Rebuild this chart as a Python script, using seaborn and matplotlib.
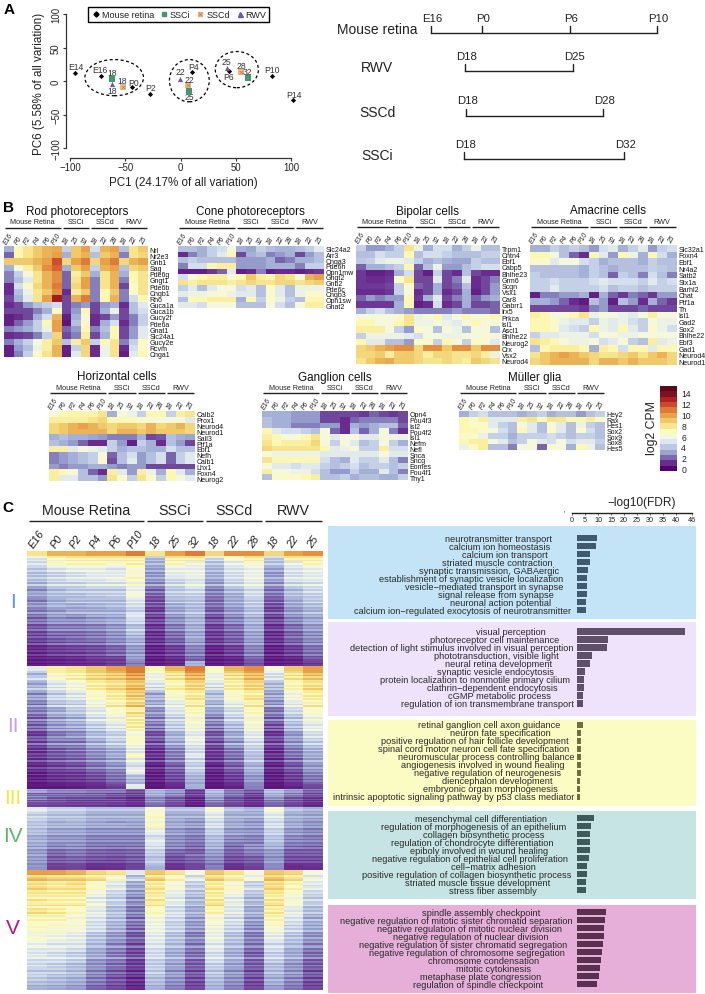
import matplotlib
matplotlib.use("Agg")
import matplotlib.pyplot as plt
from matplotlib.colors import LinearSegmentedColormap, Normalize
from matplotlib.cm import ScalarMappable
from matplotlib.lines import Line2D
from matplotlib.legend_handler import HandlerTuple
from matplotlib.patches import Ellipse, Rectangle
import numpy as np
import pandas as pd
import seaborn as sns

sns.set_theme(style="white")
plt.rcParams["font.family"] = ["Liberation Sans", "DejaVu Sans"]
plt.rcParams["axes.unicode_minus"] = True

W, H = 705, 995
fig = plt.figure(figsize=(W / 100, H / 100), dpi=100)


def px_ax(x, y, w, h, **kw):
    return fig.add_axes([x / W, 1 - (y + h) / H, w / W, h / H], **kw)


bg = px_ax(0, 0, W, H)
bg.set_xlim(0, W)
bg.set_ylim(H, 0)
bg.axis("off")

TXT = "#222222"
palette = ["#52006a", "#6a2d8f", "#7b6bae", "#9aa5cf", "#bcc8e3", "#dde7ef", "#f4f8e0", "#fdfab8",
           "#f7e68f", "#f0c86a", "#e8a34a", "#de7a38", "#cc4a2b", "#b02220", "#7e1020", "#5a0a18"]
VMIN, VMAX = -0.5, 15.3
cmap_fine = LinearSegmentedColormap.from_list("lcpm", palette, N=128)
cmap_steps = LinearSegmentedColormap.from_list("lcpm16", palette, N=16)

# ---------- Panel A data ----------
retina_stage = ["E14", "E16", "P0", "P2", "P4", "P6", "P10", "P14"]
retina_pc1 = [-95.8, -71.6, -43.9, -27.3, 10.7, 43.9, 82.8, 102]
retina_pc6 = [12, 7.5, -9, -20, 13, 14.5, 8, -28]
ssci_day = ["18", "25", "32"]
ssci_pc1 = [-62, 8, 60.8]
ssci_pc6 = [3, -15, 5]
sscd_day = ["18", "22", "28"]
sscd_pc1 = [-52, 7, 54.4]
sscd_pc6 = [-8.5, -6, 14]
rwv_day = ["18", "22", "25"]
rwv_pc1 = [-62, -0.5, 42]
rwv_pc6 = [-4.5, 3, 20]
retina_off = [(1, 6), (-2, 6), (2, 5), (0, 7), (1, 6), (0, -5), (0, 6), (1, 5)]
ssci_off = [(0, 6), (0, -5), (0, 6)]
sscd_off = [(-1, 6), (1, 6), (1, 6)]
rwv_off = [(0, -6), (0, 7), (-1, 6)]
GREEN, ORANGE, VIOLET = "#3f9a6e", "#eeb98a", "#6a5aa8"

ax = px_ax(70, 15, 221, 134)
ax.set_xlim(-100, 100)
ax.set_ylim(-100, 100)
ax.patch.set_alpha(0)
sns.scatterplot(x=retina_pc1, y=retina_pc6, marker="D", color="black", s=7, linewidth=0, ax=ax, clip_on=False)
sns.scatterplot(x=ssci_pc1, y=ssci_pc6, marker="s", color=GREEN, s=14, linewidth=0, ax=ax)
sns.scatterplot(x=sscd_pc1, y=sscd_pc6, marker="s", color=ORANGE, s=14, linewidth=0, ax=ax)
sns.scatterplot(x=sscd_pc1, y=sscd_pc6, marker="x", color="#c9783a", s=7, linewidth=0.5, ax=ax)
sns.scatterplot(x=rwv_pc1, y=rwv_pc6, marker="^", color=VIOLET, s=14, linewidth=0, ax=ax)
for labs, xs, ys, offs in [(retina_stage, retina_pc1, retina_pc6, retina_off), (ssci_day, ssci_pc1, ssci_pc6, ssci_off),
                           (sscd_day, sscd_pc1, sscd_pc6, sscd_off), (rwv_day, rwv_pc1, rwv_pc6, rwv_off)]:
    for lab, x, y, off in zip(labs, xs, ys, offs):
        ax.annotate(lab, (x, y), xytext=off, textcoords="offset pixels", ha="center", va="center", fontsize=6.2,
                    color="#333333", annotation_clip=False)
for cx, cy, ew, eh in [(-60, 5, 53, 54), (8, 0.5, 36, 63), (51, 17, 39, 54)]:
    ax.add_patch(Ellipse((cx, cy), ew, eh, fill=False, ec="black", ls=(0, (2.4, 2)), lw=0.9))
sns.despine(ax=ax, offset={"left": 3, "bottom": 7})
for s in ("left", "bottom"):
    ax.spines[s].set_color("#333333")
    ax.spines[s].set_linewidth(0.9)
ax.set_xticks([-100, -50, 0, 50, 100])
ax.set_yticks([-100, -50, 0, 50, 100])
ax.tick_params(axis="both", length=2.2, width=0.8, labelsize=6.9, pad=1.2, color="#333333", left=True, bottom=True,
               labelcolor=TXT)
for t in ax.get_yticklabels():
    t.set_rotation(90)
    t.set_va("center")
bg.text(183, 183, "PC1 (24.17% of all variation)", ha="center", va="center", fontsize=8.4, color=TXT)
bg.text(39, 84, "PC6 (5.58% of all variation)", ha="center", va="center", fontsize=8.4, rotation=90, color=TXT)
hs = [Line2D([], [], marker="D", color="black", ls="", ms=2.6),
      Line2D([], [], marker="s", color=GREEN, ls="", ms=3.4),
      (Line2D([], [], marker="s", color=ORANGE, ls="", ms=3.4),
       Line2D([], [], marker="x", color="#c9783a", ls="", ms=2.6, mew=0.5)),
      Line2D([], [], marker="^", color=VIOLET, ls="", ms=3.6)]
leg = ax.legend(hs, ["Mouse retina", "SSCi", "SSCd", "RWV"], ncol=4, loc="center",
                bbox_to_anchor=(178.5 / W, 1 - 15.5 / H), bbox_transform=fig.transFigure, fontsize=6.5,
                frameon=True, fancybox=False, edgecolor="black", framealpha=1, handletextpad=0.05,
                columnspacing=0.5, handlelength=1.2, borderpad=0.3, handler_map={tuple: HandlerTuple(ndivide=1, pad=0)})
leg.get_frame().set_linewidth(1)
for t in leg.get_texts():
    t.set_color(TXT)

# ---------- Panel A timelines ----------
timeline_names = ["Mouse retina", "RWV", "SSCd", "SSCi"]
timeline_stages = [["E16", "P0", "P6", "P10"], ["D18", "D25"], ["D18", "D28"], ["D18", "D32"]]
timeline_x = [[431, 482, 570, 657], [465, 573], [466, 603], [464, 624]]
timeline_y = [34, 72, 117, 160]
for name, stages, xs, y in zip(timeline_names, timeline_stages, timeline_x, timeline_y):
    bg.plot([xs[0], xs[-1]], [y, y], color="#222222", lw=1, solid_capstyle="projecting")
    for st, x in zip(stages, xs):
        bg.plot([x, x], [y, y - 7], color="#222222", lw=1)
        bg.text(x + 1.5, y - 15.5, st, ha="center", va="center", fontsize=8.2, color=TXT)
    bg.text(377, y - 4, name, ha="center", va="center", fontsize=10, color=TXT)

# ---------- Panel B data ----------
sample_cols = ["E16", "P0", "P2", "P4", "P6", "P10", "18", "25", "32", "18", "22", "28", "18", "22", "25"]
group_names = ["Mouse Retina", "SSCi", "SSCd", "RWV"]
group_spans = [(0, 6), (6, 9), (9, 12), (12, 15)]

rod_genes = ["Nrl", "Nr2e3", "Gnb1", "Sag", "Pde6g", "Gngt1", "Pde6b", "Cngb1", "Rho", "Guca1a", "Guca1b", "Gucy2f",
             "Pde6a", "Gnat1", "Slc24a1", "Gucy2e", "Rcvm", "Cnga1"]
rod_values = [
    [3, 7, 8, 9, 9.5, 9.8, 4, 9, 10, 4.5, 9.5, 10, 3.5, 8, 9],
    [1.5, 7, 8, 9, 9.5, 10, 3, 9, 9.5, 3.5, 9, 9.5, 2, 8, 8.5],
    [9, 9, 9, 9.5, 10, 12, 8.5, 10, 11, 8.5, 10, 11, 8.5, 9.5, 10],
    [3, 6, 7.5, 9, 10.5, 11.5, 3, 9, 10, 4, 9.5, 10, 3.5, 8.5, 9],
    [2, 4, 6, 8, 9.5, 10.5, 1.5, 7.5, 9, 3, 8, 9.5, 3, 7, 8],
    [2, 3.5, 5, 8, 9.5, 10.5, 1.5, 8, 10, 2, 8, 9.5, 2, 7, 8],
    [0.5, 4.5, 6.5, 8.5, 9.5, 11, 1.5, 8.5, 10, 2, 8, 9.5, 1, 6.5, 8],
    [0.5, 3.5, 5.5, 8, 9, 10.5, 0.5, 7.5, 9, 2, 7, 9, 2, 6.5, 8],
    [1, 3, 5, 8, 10, 13.5, 1, 9.5, 11, 2, 7, 9.5, 2, 4.5, 7],
    [0.5, 1, 2.5, 3.5, 4, 4.5, 1, 2, 2.5, 1, 2.5, 3, 0.5, 3.5, 5],
    [1, 1, 1, 2, 3, 6.5, 1, 2.5, 7, 1, 3, 5.5, 1, 3.5, 4.5],
    [0.3, 0.5, 1, 3, 4.5, 9.5, 0.3, 3, 6, 0.5, 1, 2.5, 1, 2, 4],
    [0.3, 1.5, 2.5, 4, 7, 10, 0, 3.5, 6.5, 0.5, 3, 4.5, 0.5, 2, 4],
    [2, 2.5, 3, 4, 5.5, 10, 1.5, 2.5, 7, 2, 3.5, 7, 1, 2.5, 5],
    [0.5, 0.8, 1, 2, 4, 8.5, 1, 2, 7.5, 1, 3, 7, 1, 2.5, 5],
    [2, 3, 4, 6, 7.5, 9, 3.5, 7.5, 9, 4, 7, 8, 2, 4, 6.5],
    [0.3, 2.5, 3.5, 5.5, 7.5, 9.5, 0.3, 4, 8.5, 0.5, 5.5, 8, 0.5, 4.5, 6.5],
    [0.3, 2, 4, 6.5, 8, 9.5, 0.3, 5, 8.5, 0.5, 5.5, 8, 0.3, 5, 7],
]
cone_genes = ["Slc24a2", "Arr3", "Cnga3", "Pde6h", "Opn1mw", "Gngt2", "Gnb2", "Pde6c", "Cngb3", "Opn1sw", "Gnat2"]
cone_values = [
    [3.5, 3.5, 3, 4, 4.5, 6, 3, 2.8, 4, 3.5, 3.2, 3.2, 3.5, 4, 5],
    [0.5, 2, 3, 4, 5, 7, 1, 3, 3.5, 2, 2.5, 3, 1, 2.5, 3.5],
    [3.5, 4, 3.5, 3.5, 3.5, 3.5, 2.5, 2.5, 2.5, 3, 1.5, 2, 3, 3, 3.5],
    [2, 4.5, 4.5, 7, 7.5, 7.5, 2.5, 2.5, 2.5, 3, 3, 3, 2, 4, 4],
    [0.3, 0.3, 0.3, 0.8, 1.5, 5, 0.3, 0.5, 2, 0.3, 0.5, 0.5, 0.3, 0.5, 0.8],
    [4.5, 6, 7, 7.5, 7.5, 6, 7, 9, 7.5, 7, 8.5, 8, 6, 9.5, 10],
    [8, 7.5, 8, 8, 8, 7.5, 8, 8.5, 8, 8, 8.5, 8.5, 8, 8.5, 8.8],
    [4, 5, 3.5, 5, 6, 6, 4.5, 5, 3.5, 6.5, 5, 3.5, 5.5, 5.5, 5.5],
    [5, 5.5, 5.5, 6, 6, 5.5, 5, 5, 3.5, 6.5, 5, 3.5, 5.5, 6.5, 6.5],
    [3.5, 7, 7, 7.5, 7.5, 7.5, 3, 7, 4, 6.5, 5.5, 4, 3.5, 7, 7],
    [5, 5, 4.5, 6, 6, 6, 3.5, 3.5, 3.5, 6, 4.5, 3.5, 6, 7.5, 7.5],
]
bipolar_genes = ["Trpm1", "Cntn4", "Ebf1", "Cabp5", "Bhlhe23", "Grm6", "Scgn", "Vsx1", "Car8", "Gabrr1", "Irx5", "Prkca",
                 "Isl1", "Ascl1", "Bhlhe22", "Neurog2", "Crx", "Vsx2", "Neurod4"]
bipolar_values = [
    [4, 2.5, 2.5, 3, 4, 8, 5.5, 3, 4.5, 4.5, 3, 4, 5.5, 3.5, 3.5],
    [3.5, 3.5, 4.5, 4, 4, 7, 3.5, 4.5, 4.5, 4, 3.5, 3.5, 3.5, 4, 4],
    [3.8, 4, 5, 5.5, 5.5, 5, 4, 3, 3.5, 3, 2.8, 2.8, 4, 3.5, 3.5],
    [1.5, 3, 3, 3.5, 4, 7, 1.5, 3.5, 5.5, 2.5, 2.5, 3.5, 4, 4.5, 4.5],
    [0.8, 0.3, 0.3, 0.5, 3, 4.5, 1, 0.3, 4, 1, 0.5, 3.5, 1, 0.5, 0.5],
    [0.8, 0.5, 0.5, 0.8, 6.5, 8, 1, 1, 5, 1, 2, 5, 0.5, 1, 2],
    [0.8, 0.8, 0.8, 1, 4, 6.5, 1.5, 1, 3, 1, 1.5, 3.5, 0.5, 1, 2.5],
    [0.5, 0.5, 0.5, 0.8, 4, 6, 0.5, 1, 3, 0.5, 1, 3, 0.3, 1, 2.5],
    [1.5, 2.5, 2, 2.5, 2.5, 7, 0.8, 3, 5, 1, 2, 3, 1.5, 2.5, 3],
    [0.8, 0.8, 0.8, 0.8, 3, 7, 0.3, 0.5, 4.5, 0.5, 1, 3, 1, 1, 1.5],
    [3, 4, 4.5, 3.5, 3, 2.5, 2, 2, 2, 2, 2.5, 2, 2, 2, 1.5],
    [6, 6, 6, 6, 6.5, 8, 5.5, 6, 7, 5, 6, 7, 6, 6.5, 7],
    [7, 7, 6, 6, 7, 8, 5.5, 5.5, 6, 5.5, 5, 6, 7, 6, 6],
    [7.5, 7.5, 7.5, 6, 4, 2.5, 6.5, 6, 3.5, 6, 5.5, 3.5, 6, 6, 3.5],
    [4, 5.5, 5.5, 5.5, 5.5, 5, 4.5, 6, 6, 5.5, 5.5, 6, 6, 6.5, 6],
    [7, 5, 5, 3.5, 3.5, 2.5, 6.5, 6.5, 4, 7, 6, 4, 6.5, 6, 5],
    [8.5, 9, 9.5, 10, 10.5, 10.5, 8.5, 10.5, 10.5, 9, 10.5, 10.5, 9, 10.5, 10.5],
    [8.5, 8.5, 8.8, 7.5, 8.8, 9, 8.5, 7.5, 8.5, 8.5, 8, 8, 8.5, 7.5, 5.5],
    [8, 8.8, 9.5, 9.8, 9, 9, 8.5, 8, 8, 8.5, 8, 7.5, 9, 8.5, 8],
]
amacrine_genes = ["Slc32a1", "Foxn4", "Ebf1", "Nr4a2", "Satb2", "Stx1a", "Barhl2", "Chat", "Ptf1a", "Th", "Isl1", "Gad2",
                  "Sox2", "Bhlhe22", "Ebf3", "Gad1", "Neurod4", "Neurod1"]
amacrine_values = [
    [3, 3, 4, 3.5, 4, 3.5, 2.5, 4.5, 5, 3, 4, 5, 2.5, 4, 4.5],
    [7, 7, 6, 3.5, 1.5, 0.5, 7, 5, 2.5, 7, 5.5, 3, 7, 4.5, 3],
    [6.5, 6.5, 5, 6, 6, 4.5, 4, 3, 3.5, 3.5, 3.5, 3, 4, 3.5, 3.5],
    [3.5, 3.5, 3.5, 3.5, 3.5, 3, 4, 3.5, 3, 3.5, 3.5, 3.5, 4, 3.8, 3.5],
    [4, 3.5, 3.5, 3.5, 3.5, 3, 4, 3.5, 1.5, 4, 3.5, 2, 4.5, 3.5, 2],
    [4, 4, 4.5, 4, 4, 4, 4.5, 5, 4.5, 4.5, 4.5, 4, 5, 4, 4.5],
    [4, 4, 5, 4, 4, 4, 4, 4.5, 3.5, 4, 4, 3.5, 4, 4, 4],
    [0.3, 2, 2, 2.5, 2.5, 3, 0.3, 3, 1.5, 0.8, 2, 1.5, 0.8, 2.5, 2.5],
    [3, 3, 2.5, 1.5, 0.5, 0.2, 3.5, 2.5, 0.3, 3.5, 2.5, 0.5, 3, 1.5, 0.8],
    [1, 1, 1, 1, 1, 0.8, 2, 2.5, 1, 1, 1, 1.5, 1, 1, 1],
    [7.5, 7, 6, 6, 7, 8, 5.5, 6, 6, 5.5, 5, 6, 7.5, 6, 6],
    [7, 7, 6.5, 5.5, 5, 5, 4, 5.5, 5, 5.5, 4.5, 4, 6, 5.5, 5.5],
    [7, 7, 6.5, 5, 4.5, 4, 7, 5.5, 5, 7, 5, 4, 6.5, 5.5, 4.5],
    [4, 5, 5, 5.5, 5.5, 5.5, 4.5, 6, 6, 5.5, 5.5, 6, 6, 6, 6],
    [8, 7.5, 7, 6, 5.5, 5.5, 6, 4.5, 5, 6, 4, 3.5, 7.5, 5, 5.5],
    [3.5, 7, 7.5, 7.5, 7.5, 7, 3, 7.5, 7, 4.5, 7, 7, 5, 7, 7],
    [8, 9, 9.5, 10, 9.5, 9, 8.5, 8, 8, 8.5, 9, 8, 9, 9.5, 8.5],
    [8.5, 9, 9.5, 9.5, 9.5, 9.5, 8.5, 9.5, 9.5, 9, 9.5, 9, 9, 9, 8.5],
]
horizontal_genes = ["Calb2", "Prox1", "Neurod4", "Neurod1", "Sall3", "Ptf1a", "Ebf1", "Nefh", "Calb1", "Lhx1", "Foxn4",
                    "Neurog2"]
horizontal_values = [
    [6, 7, 7.2, 7.2, 7.2, 8, 3, 6, 5.5, 4, 7, 7, 4, 7.5, 8],
    [7.5, 7.5, 7.5, 7.5, 8, 8.5, 7, 7, 6.8, 6.5, 6, 6, 6, 6, 5],
    [8.5, 9, 9.5, 10, 9.5, 9, 8.5, 9, 9, 8.5, 9.5, 8.5, 9, 9.5, 8.5],
    [8.5, 9, 9.5, 9.5, 9.5, 9.5, 8.5, 9.5, 9.5, 9, 9.5, 9, 9, 9, 8.5],
    [3, 3.5, 3, 3, 2.8, 2.5, 2, 2, 2, 3, 1, 1.3, 3.5, 3, 2.8],
    [3.5, 3, 2.5, 1.5, 0.5, 0.5, 4, 2.5, 0.3, 4, 3, 0.5, 3.5, 2.5, 1],
    [7.5, 7.5, 5, 6, 5.5, 5, 4, 3, 3.5, 3.5, 3, 3, 4.5, 3.5, 3.5],
    [2, 2.5, 3, 3.5, 4, 6, 1.5, 3.5, 4.5, 2.5, 3.5, 4.5, 1.5, 4, 5],
    [2, 2.5, 3, 3.5, 4, 6.5, 1.2, 3.5, 5, 2.5, 3.5, 4.5, 1.5, 4, 5],
    [2.5, 2, 2.5, 2.5, 3, 3, 2.5, 2, 2.5, 2.5, 1, 1, 1, 1, 1],
    [7.5, 7, 6, 3.5, 1.5, 0.5, 7.5, 5, 2.5, 7.5, 5.5, 3, 7, 5, 3],
    [7.5, 5, 5, 3.5, 3.5, 2.5, 8, 6.5, 4, 8, 6.5, 4, 7, 6, 5],
]
ganglion_genes = ["Opn4", "Pou4f3", "Isl2", "Pou4f2", "Isl1", "Nefm", "Nefl", "Snca", "Sncg", "Eomes", "Pou4f1", "Thy1"]
ganglion_values = [
    [3, 3, 3, 2.5, 2.5, 2.5, 1, 1, 1, 1, 0.8, 1.5, 1, 0.8, 1],
    [3.5, 3, 3, 2.5, 2.5, 2.5, 1, 1, 0.5, 1.5, 2, 2, 2, 2, 1],
    [3.5, 3, 3, 2, 2, 2, 2.5, 2.5, 0.5, 3, 2.5, 3, 3.5, 3.5, 1.5],
    [7, 5, 4.5, 4.5, 4, 3.5, 6, 1.5, 0.5, 3.5, 1.5, 3, 6, 2, 0.5],
    [7.5, 7, 6, 6, 7, 8, 6, 5, 6, 6, 5, 5, 6, 5.5, 5.5],
    [8, 7, 7.5, 7.5, 7.5, 8.5, 6, 4, 6, 5, 3.5, 4, 6, 4, 3],
    [8.5, 8, 8, 8, 8, 8, 7, 5, 5.5, 6, 4, 4, 7.5, 4.5, 4.5],
    [6, 5.5, 5.5, 5.5, 5.5, 5.5, 5, 5, 5, 5, 5, 5, 6, 5, 5],
    [8, 7, 7, 7, 7, 7, 4.5, 3.5, 3, 5, 4, 4, 5, 3.5, 2],
    [6, 5, 5, 4.5, 5, 5, 4, 3.5, 4, 4.5, 3.5, 4, 4, 3.5, 4],
    [7.5, 6, 6, 5.5, 5.5, 4.5, 3.5, 2.5, 2.5, 4, 3, 3, 5, 3.5, 2],
    [3.5, 6.5, 6.5, 6.5, 7, 7.5, 3.5, 3.5, 4, 3, 3.5, 3.5, 3, 3, 4],
]
muller_genes = ["Hey2", "Rax", "Hes1", "Sox2", "Sox9", "Sox8", "Hes5"]
muller_values = [
    [3, 4, 4.5, 3.5, 3.5, 3.5, 3, 3.5, 4, 3, 3.5, 3.5, 2.5, 3.5, 4],
    [7, 6.5, 7.5, 5, 5, 5, 7.5, 8, 6.8, 8, 7.8, 7, 7, 7.5, 6.5],
    [7, 6.5, 6.5, 5, 4, 3.5, 6, 5, 3.5, 6, 5, 3.5, 5.5, 4, 3.5],
    [7, 7, 6.5, 6, 4.5, 3.5, 7, 5, 3.5, 6.5, 5, 3.5, 6.5, 4.5, 3.5],
    [6.5, 6.5, 5.5, 4, 4, 3, 4, 4, 4, 4.5, 4, 3.5, 4, 4, 3.5],
    [7, 7.5, 7.5, 6, 5, 3.5, 4, 6, 5, 4.5, 6, 4.5, 5, 5, 4],
    [5.5, 6.5, 7.5, 3.5, 3.5, 2, 6, 6, 1.5, 6.5, 6, 3, 7, 5.5, 3.5],
]

panels_b = [
    ("Rod photoreceptors", rod_genes, rod_values, 4, 247, 144, 111, 77),
    ("Cone photoreceptors", cone_genes, cone_values, 178, 247, 146, 62, 250),
    ("Bipolar cells", bipolar_genes, bipolar_values, 356, 246, 144, 119, 427),
    ("Amacrine cells", amacrine_genes, amacrine_values, 530, 246, 147, 120, 608),
    ("Horizontal cells", horizontal_genes, horizontal_values, 49, 412, 146, 70, 117),
    ("Ganglion cells", ganglion_genes, ganglion_values, 262, 412, 146, 69, 335),
    ("Müller glia", muller_genes, muller_values, 459, 412, 146, 39, 535),
]


def hmap(ax, vals, genes=False, cols=False):
    df = pd.DataFrame(vals)
    sns.heatmap(df, ax=ax, cmap=cmap_fine, vmin=VMIN, vmax=VMAX, cbar=False, xticklabels=cols, yticklabels=genes,
                linewidths=0, rasterized=True)


def headers(x0, w, y, names_fs, line_lw, text_dy, pad=1.0):
    cw = w / 15
    for nm, (a, b) in zip(group_names, group_spans):
        bg.plot([x0 + a * cw + pad, x0 + b * cw - pad], [y, y], color="#222222", lw=line_lw, solid_capstyle="butt")
        bg.text(x0 + (a + b) / 2 * cw, y - text_dy, nm, ha="center", va="center", fontsize=names_fs, color=TXT)


for title, genes, vals, x0, y0, w, h, tx in panels_b:
    axh = px_ax(x0, y0, w, h)
    hmap(axh, vals, genes, sample_cols)
    axh.yaxis.tick_right()
    axh.xaxis.tick_top()
    axh.tick_params(axis="both", length=0, pad=1.2)
    axh.tick_params(axis="y", labelsize=5.0, labelrotation=0, labelcolor="#111111")
    axh.tick_params(axis="x", labelsize=4.9, labelrotation=60, labelcolor=TXT, pad=0.8)
    for t in axh.get_xticklabels():
        t.set_style("italic")
    headers(x0, w, y0 - 18, 5.2, 1.0, 6)
    bg.text(tx, y0 - 34.5, title, ha="center", va="center", fontsize=8.4, color="#111111")

# colour key
key_ticks = [0, 2, 4, 6, 8, 10, 12, 14]
cax = px_ax(660, 387, 17, 85)
cb = fig.colorbar(ScalarMappable(Normalize(VMIN, VMAX), cmap_steps), cax=cax)
cb.set_ticks(key_ticks)
cb.outline.set_visible(False)
cb.ax.tick_params(length=0, labelsize=6.2, pad=3, labelcolor=TXT)
bg.text(652, 428, "log2 CPM", rotation=90, ha="center", va="center", fontsize=8.8, color=TXT)

# ---------- Panel C data ----------
cluster_names = ["I", "II", "III", "IV", "V"]
cluster_colors = ["#5b9bd5", "#c9a0f0", "#f2e83c", "#5fb56a", "#c4107a"]
cluster_label_y = [602, 727, 798, 836, 929]
cluster_edges = [552, 667, 790, 808, 871, 991]

cluster1_values = [
    [8, 9.5, 9.5, 10, 10, 11, 8, 10, 11, 8.5, 10.5, 10.5, 8.5, 10, 10.5],
    [5, 7, 7.5, 7.5, 7.5, 7.5, 3.5, 7.5, 7.5, 4.5, 6.5, 7.5, 4, 7.5, 7.5],
    [4.5, 6, 6.5, 6.5, 6, 7, 3, 6.5, 5.5, 3.5, 5, 6, 3.5, 5, 6.5],
    [4, 5, 5.5, 5.5, 5, 6.5, 3, 5.5, 5.5, 3.5, 5, 5.5, 3, 5, 5.5],
    [3.5, 4, 4.5, 5, 5, 6, 2.5, 5, 5.5, 3, 4.5, 5.5, 2.5, 4.5, 5],
    [3.8, 4.5, 5, 5, 5.5, 6.8, 2.8, 4.5, 5, 3, 4.5, 5.5, 3, 5, 5.2],
    [3, 4, 4, 4.5, 4.5, 5.5, 2.2, 4, 5, 2.5, 4, 5, 2.3, 4, 4.5],
    [2.5, 3.5, 4, 4, 4, 5.5, 1.8, 4, 4.5, 2.2, 3.5, 4.5, 2, 3.5, 4.5],
    [2.8, 3.5, 3.5, 3.8, 4, 6, 1.5, 3.8, 4, 2, 3, 4.5, 1.8, 3.5, 4],
    [2.2, 3, 3.5, 3.5, 3.5, 5, 1.3, 3.5, 3.8, 1.8, 3, 4, 1.5, 3, 4],
    [2.5, 3.2, 3, 3.2, 3.5, 4.5, 1.2, 3, 3.5, 1.8, 2.8, 3.8, 1.2, 2.8, 3.5],
    [2, 2.5, 3, 3, 3, 4, 1, 2.8, 3.5, 1.5, 2.5, 3.5, 1.2, 2.5, 3.2],
    [1.8, 2.6, 2.4, 2.8, 3, 5, 1, 2.5, 3.2, 1.2, 2.2, 3.3, 1, 2.4, 3],
    [1.6, 2.2, 2.2, 2.5, 2.8, 4, 0.9, 2.2, 3, 1.2, 2, 3, 1, 2, 2.8],
    [1.4, 2, 2, 2.2, 2.5, 3.5, 0.8, 2, 3, 1, 1.8, 3, 0.8, 1.8, 2.6],
    [1.2, 1.8, 1.8, 2, 2.5, 3.8, 0.7, 1.8, 2.8, 0.9, 1.6, 2.8, 0.7, 1.6, 2.4],
    [1, 1.4, 1.6, 1.8, 2.2, 3, 0.6, 1.5, 2.8, 0.8, 1.4, 2.6, 0.6, 1.5, 2.2],
    [0.8, 1.2, 1.4, 1.5, 2, 2.8, 0.5, 1.3, 2.4, 0.7, 1.2, 2.4, 0.5, 1.3, 2],
    [0.6, 1, 1.1, 1.2, 1.6, 2.6, 0.4, 1, 2.2, 0.5, 1, 2.2, 0.4, 1, 1.8],
    [0.4, 0.7, 0.8, 1, 1.4, 2.4, 0.3, 0.8, 1.8, 0.3, 0.8, 1.9, 0.3, 0.8, 1.6],
    [0.3, 0.5, 0.6, 0.8, 1, 2.6, 0.2, 0.6, 1.6, 0.2, 0.5, 1.6, 0.2, 0.5, 1.3],
    [0, 0.2, 0.3, 0.4, 0.6, 1.8, 0, 0.3, 3, 0, 0.3, 1, 0, 0.2, 0.6],
]
cluster2_values = [
    [5, 7.5, 8, 9, 10, 11, 7, 9.5, 11, 6.5, 9.5, 10.5, 6, 9, 10],
    [3.5, 7, 7.5, 8.5, 9, 10.5, 6, 8, 10, 6, 8.5, 9.5, 5, 8, 9.5],
    [4, 6, 7, 8, 8.5, 9.5, 5.5, 7.5, 9, 5.5, 7.5, 9, 4.5, 7.5, 8.5],
    [3, 5, 6, 7.5, 8, 9, 5, 7, 8.5, 5, 7.5, 8.5, 3.5, 7, 8],
    [3.2, 4.5, 5.5, 7, 8, 9, 4, 7, 8, 4, 7, 8, 3, 6.5, 8],
    [2.5, 4, 5, 6.5, 7.5, 9, 3, 6.5, 7.5, 3.5, 6.5, 7.5, 3, 6, 7.5],
    [2.5, 4, 4.5, 6, 7, 8, 3, 5.5, 7.5, 3.5, 6, 7.5, 2.5, 5.5, 7],
    [2, 3.5, 4, 5.5, 7, 8.5, 3, 5, 7, 3, 5, 7, 2.5, 5, 7],
    [2.2, 3, 4, 5, 6.5, 7.5, 2.5, 5, 7, 3, 4.5, 7, 2, 4.5, 6.5],
    [1.8, 3, 3.5, 5, 6, 8, 2.5, 4.5, 6.5, 2.5, 4.5, 6.5, 2, 4, 6],
    [1.5, 2.5, 3, 4.5, 5.5, 7, 2, 4, 6, 2, 4, 6, 1.5, 3.5, 5.5],
    [1.6, 2.5, 3, 4, 5, 7.5, 2, 4, 6, 2, 3.5, 6, 1.3, 3.5, 5],
    [1.3, 2.3, 2.5, 3.5, 4.5, 6.5, 1.5, 3.5, 5.5, 1.5, 3, 5.5, 1, 3, 5],
    [1, 2, 2.5, 3.5, 4, 6, 1.3, 3, 5, 1.5, 3, 5, 1, 2.5, 4.5],
    [1.2, 2, 2, 3, 4, 6.5, 1.2, 3, 5.5, 1.2, 2.5, 4.5, 1, 2.5, 4],
    [1, 1.8, 2, 2.8, 3.5, 5.5, 1, 2.5, 4.5, 1, 2.5, 4, 0.8, 2.2, 3.5],
    [0.8, 1.5, 1.8, 2.5, 3, 5, 0.8, 2.2, 4.5, 1, 2, 4, 0.7, 2, 3.2],
    [0.9, 1.4, 1.6, 2.2, 3, 6.5, 0.8, 2, 5, 0.8, 1.8, 3.5, 0.7, 1.8, 3],
    [0.7, 1.2, 1.4, 2, 2.6, 5, 0.6, 1.8, 4, 0.7, 1.6, 3.5, 0.5, 1.5, 2.8],
    [0.6, 1, 1.2, 1.8, 2.4, 4.5, 0.5, 1.5, 4, 0.5, 1.5, 3, 0.5, 1.3, 2.5],
    [0.5, 0.9, 1, 1.5, 2, 5.5, 0.4, 1.3, 3.8, 0.4, 1.2, 3, 0.4, 1.1, 2.3],
    [0.4, 0.7, 0.8, 1.2, 1.8, 3.5, 0.3, 1.2, 3.2, 0.3, 1, 2.5, 0.3, 1, 2],
    [0.2, 0.4, 0.5, 0.8, 1.4, 3, 0.2, 0.8, 2.8, 0.1, 0.6, 2.3, 0.1, 0.6, 1.6],
    [0, 0.1, 0.2, 0.4, 0.8, 5, 0, 0.4, 3, 0, 0.3, 2, 0, 0.3, 1],
]
cluster3_values = [
    [2.8, 2.2, 2.2, 2, 2, 1.2, 3.2, 2.6, 1, 3.5, 2, 1.4, 3.5, 2.6, 1.6],
    [1.6, 1.6, 1.6, 1.5, 1.2, 1, 3, 2.2, 1, 3, 1.8, 1, 3, 2, 1.2],
    [2.2, 1.6, 1.4, 1.4, 1.2, 0.8, 2.4, 1.6, 0.7, 2.8, 1.4, 0.9, 2.6, 1.6, 1],
    [1.4, 1.2, 1, 1, 1, 0.7, 2.2, 1.3, 0.4, 2, 1.2, 0.7, 1.8, 1.2, 0.7],
    [1, 0.9, 0.8, 0.8, 0.7, 0.5, 1.6, 1, 0.2, 1.5, 0.9, 0.5, 1.5, 0.9, 0.4],
]
cluster4_values = [
    [5, 4, 4, 3.5, 3.5, 3.5, 6, 3.5, 3.5, 6, 3.5, 3, 6, 3.5, 3],
    [4, 3.5, 3.5, 3, 3, 3, 6.5, 3, 3, 5, 3, 3, 5, 3, 2.8],
    [4, 3.3, 3.5, 3, 2.8, 3, 6, 3, 2.6, 4.5, 3, 2.6, 4.5, 3, 2.6],
    [3.5, 3, 3, 2.7, 2.7, 2.6, 6.5, 2.8, 2.5, 4.5, 2.8, 2.5, 4.5, 2.8, 2.3],
    [3.5, 2.8, 2.8, 2.4, 2.4, 2.4, 5.5, 2.6, 2.2, 4, 2.6, 2.4, 4, 2.5, 2.2],
    [3, 2.6, 2.6, 2.2, 2.2, 2.2, 4.5, 2.4, 2, 3.5, 2.4, 2.2, 3.8, 2.3, 2],
    [3, 2.4, 2.4, 2, 2, 2, 5, 2.2, 1.8, 3.2, 2, 1.9, 3.5, 2, 1.9],
    [2.8, 2, 2.2, 1.8, 1.7, 1.8, 4.5, 2, 1.5, 3, 1.6, 2.2, 3, 1.7, 1.6],
    [2.5, 1.6, 1.8, 1.5, 1.4, 1.5, 4, 1.6, 1.4, 2.6, 1.5, 2, 2.5, 1.4, 1.4],
    [2.6, 1.4, 1.6, 1.3, 1.2, 1.4, 3.6, 1.2, 1.6, 2.3, 1.2, 1.5, 2.3, 1.2, 1.2],
    [2.4, 1.2, 1.4, 1, 1, 1.2, 3.8, 1, 1.3, 2, 1, 1.3, 2.5, 1, 1],
    [2.4, 0.9, 1, 0.6, 0.7, 1, 3, 0.7, 1, 2, 0.6, 0.9, 2.2, 0.5, 0.6],
]
cluster5_values = [
    [10, 10, 9.5, 8.5, 8, 5, 9, 8, 6, 9, 8, 6, 9, 8.5, 6],
    [8.5, 8, 8, 7.5, 6, 3.5, 8, 6.5, 4.5, 8, 7, 5.5, 8.5, 7.5, 5],
    [8, 7.5, 8, 6.5, 5, 3, 7.5, 6, 4, 7.5, 6, 4, 8, 7, 5],
    [8, 7.5, 7.5, 6, 4.5, 2.5, 7.5, 5.5, 3.5, 7.5, 6, 4, 8, 6.5, 4.5],
    [7.5, 7.5, 7.5, 5.5, 4, 2.5, 7.5, 5, 3.5, 7.5, 5.5, 3.5, 7.5, 6, 4],
    [7.5, 7, 7, 5, 4, 2.2, 7.5, 5, 3.2, 7.5, 5, 3.2, 7.5, 6, 4],
    [7, 7, 7, 5.5, 3.5, 2, 7, 4.5, 3, 7.5, 5, 3, 7.5, 5.5, 3.5],
    [8, 7.5, 6.5, 5, 3.5, 2, 6.5, 4.5, 3, 7, 5, 3, 7.5, 5, 3.5],
    [7, 7, 6, 5, 3.5, 1.8, 6, 4.5, 2.8, 6, 4.5, 2.8, 7, 5, 3],
    [6.5, 6.5, 6, 4.5, 3.2, 1.8, 5.5, 4, 2.5, 6, 4.5, 2.5, 6.5, 4.5, 3],
    [6.5, 6, 6, 4.5, 3, 1.5, 5.5, 4, 2.5, 5.5, 4, 2.2, 6, 4, 2.8],
    [6, 6, 5.5, 4, 2.8, 1.5, 5.5, 3.8, 2.2, 5.5, 3.8, 2.2, 5.5, 4, 2.6],
    [6, 5.5, 5, 3.5, 2.5, 1.5, 5, 3.5, 2.2, 5.5, 3.5, 2, 5, 3.5, 2.4],
    [5.5, 5, 5, 3.5, 2.2, 1.3, 5, 3.5, 2, 5, 3.5, 2, 4.5, 3.5, 2.2],
    [5, 5, 4.5, 3, 2.2, 1.2, 4.5, 3.2, 2, 5, 3.2, 1.8, 4.5, 3, 2],
    [5, 4.5, 4, 3, 2, 1.2, 4.5, 3, 1.8, 4.5, 3, 1.6, 4, 3, 1.8],
    [4.5, 4.5, 4, 2.5, 2, 1, 4, 3, 1.6, 4.5, 3, 1.6, 4, 2.8, 1.6],
    [4.5, 4, 3.5, 2.5, 1.8, 1, 4, 2.8, 1.5, 4, 2.8, 1.5, 3.5, 2.5, 1.5],
    [4, 4, 3.5, 2.2, 1.5, 0.8, 4, 2.5, 1.3, 3.8, 2.5, 1.3, 3.5, 2.5, 1.3],
    [4, 3.5, 3.2, 2, 1.3, 0.6, 3.5, 2.5, 1.2, 3.5, 2.4, 1.2, 3, 2.2, 1.2],
    [3.5, 3.2, 2.8, 1.8, 1.2, 0.5, 3.3, 2.2, 1, 3.2, 2.2, 1, 3, 2, 1],
    [3, 2.8, 2.5, 1.5, 1, 0.4, 3, 2, 1, 3, 2, 1, 2.5, 1.8, 1],
]
cluster_values = [cluster1_values, cluster2_values, cluster3_values, cluster4_values, cluster5_values]

# per-gene deviations read as the thin horizontal stripes of each cluster (three sub-rows per listed row)
cluster1_stripes = [0, 0, 0, .6, -.5, .3, -.4, .8, -.3, .2, -.6, .4, -.3, .7, -.2, .5, -.5, .2, -.4, 1.2, -.3, .3, -.6, .5,
                    -.2, .6, -.4, .1, -.5, 1, -.3, .4, -.5, .2, -.4, .9, -.3, .3, -.6, .5, -.2, .7, -.5, .1, -.3, .8,
                    -.4, .2, -.5, .6, -.2, .4, -.4, .9, -.3, .1, -.4, .5, -.2, .7, -.3, .2, -.3, .4, -.1, .3]
cluster2_stripes = [0, 0, 0, .5, -.7, .4, -.3, .9, -.5, .2, -.6, .5, -.4, 1, -.3, .3, -.7, .6, -.2, .8, -.5, .3, -.6, 1.3,
                    -.3, .2, -.5, .7, -.4, .3, -.6, 1.1, -.2, .4, -.5, .6, -.3, .9, -.6, .2, -.4, .7, -.2, .4, -.6, 1.2,
                    -.3, .2, -.4, .8, -.5, .3, -.2, .6, -.4, 1, -.3, .1, -.4, .7, -.2, .3, -.4, .6, -.3, .2, -.2, .5,
                    -.1, .2, 0, 0]
cluster3_stripes = [.5, -.3, .2, -.4, .6, -.2, .4, -.5, .3, -.3, .5, -.2, .2, -.1, .1]
cluster4_stripes = [0, .5, -.3, .2, -.4, .6, -.3, .3, -.5, .4, -.2, .6, -.4, .2, -.3, .7, -.4, .1, -.3, .5, -.2, .4, -.5,
                    .6, -.2, .3, -.4, .5, -.3, .2, -.2, .4, -.3, .1, -.1, 0]
cluster5_stripes = [0, 0, .3, -.5, .4, 1.2, -.3, .5, -.6, .2, 1, -.4, .6, -.3, .2, -.6, .8, -.2, .4, 1.3, -.5, .2, -.4, .7,
                    -.3, .5, -.6, .9, -.2, .3, -.5, .6, -.3, 1, -.5, .2, -.4, .7, -.2, .4, -.6, .3, .9, -.4, .2, -.5,
                    .6, -.3, 1.1, -.4, .2, -.5, .7, -.2, .3, -.6, .5, -.2, .4, -.5, .6, -.2, .3, -.3, .2, 0]
cluster_stripes = [cluster1_stripes, cluster2_stripes, cluster3_stripes, cluster4_stripes, cluster5_stripes]

for i, (vals, stripes) in enumerate(zip(cluster_values, cluster_stripes)):
    top, bot = cluster_edges[i], cluster_edges[i + 1]
    axc = px_ax(27, top, 296, bot - top)
    rows = np.repeat(np.asarray(vals, float), 3, axis=0) + np.asarray(stripes)[:, None]
    hmap(axc, rows, False, sample_cols if i == 0 else False)
    if i == 0:
        axc.xaxis.tick_top()
        axc.tick_params(axis="x", length=0, labelsize=7.8, labelrotation=55, pad=1.5, labelcolor=TXT)
        for t in axc.get_xticklabels():
            t.set_style("italic")
    bg.text(13, cluster_label_y[i], cluster_names[i], ha="center", va="center", fontsize=15, color=cluster_colors[i])
headers(27, 296, 522, 10.3, 1.0, 11, pad=1.5)

# ---------- GO terms ----------
go_terms_1 = ["neurotransmitter transport", "calcium ion homeostasis", "calcium ion transport",
              "striated muscle contraction", "synaptic transmission, GABAergic",
              "establishment of synaptic vesicle localization", "vesicle−mediated transport in synapse",
              "signal release from synapse", "neuronal action potential",
              "calcium ion−regulated exocytosis of neurotransmitter"]
go_fdr_1 = [7.7, 7.4, 5.0, 4.9, 4.4, 3.7, 3.7, 3.7, 3.6, 3.3]
go_right_1 = [681, 677, 668, 684, 703, 715, 715, 687, 678, 737]
go_terms_2 = ["visual perception", "photoreceptor cell maintenance", "detection of light stimulus involved in visual perception",
              "phototransduction, visible light", "neural retina development", "synaptic vesicle endocytosis",
              "protein localization to nonmotile primary cilium", "clathrin−dependent endocytosis",
              "cGMP metabolic process", "regulation of ion transmembrane transport"]
go_fdr_2 = [41.4, 11.8, 11.4, 5.9, 5.1, 3.1, 2.8, 2.7, 2.4, 2.4]
go_right_2 = [663, 703, 747, 700, 681, 687, 736, 697, 678, 747]
go_terms_3 = ["retinal ganglion cell axon guidance", "neuron fate specification",
              "positive regulation of hair follicle development", "spinal cord motor neuron cell fate specification",
              "neuromuscular process controlling balance", "angiogenesis involved in wound healing",
              "negative regulation of neurogenesis", "diencephalon development", "embryonic organ morphogenesis",
              "intrinsic apoptotic signaling pathway by p53 class mediator"]
go_fdr_3 = [2.3, 1.7, 1.4, 1.4, 1.4, 1.4, 1.4, 1.3, 1.3, 1.3]
go_right_3 = [705, 676, 732, 733, 749, 718, 707, 684, 700, 749]
go_terms_4 = ["mesenchymal cell differentiation", "regulation of morphogenesis of an epithelium",
              "collagen biosynthetic process", "regulation of chondrocyte differentiation",
              "epiboly involved in wound healing", "negative regulation of epithelial cell proliferation",
              "cell−matrix adhesion", "positive regulation of collagen biosynthetic process",
              "striated muscle tissue development", "stress fiber assembly"]
go_fdr_4 = [6.7, 5.5, 5.0, 4.9, 4.9, 4.7, 3.8, 3.7, 3.6, 3.3]
go_right_4 = [665, 723, 659, 686, 670, 730, 634, 738, 675, 636]
go_terms_5 = ["spindle assembly checkpoint", "negative regulation of mitotic sister chromatid separation",
              "negative regulation of mitotic nuclear division", "negative regulation of nuclear division",
              "negative regulation of sister chromatid segregation", "negative regulation of chromosome segregation",
              "chromosome condensation", "mitotic cytokinesis", "metaphase plate congression",
              "regulation of spindle checkpoint"]
go_fdr_5 = [11, 10.6, 10.3, 10.3, 10, 9.7, 9.2, 8.7, 8.6, 7.8]
go_right_5 = [647, 743, 712, 671, 727, 719, 642, 618, 648, 655]

go_sets = [(go_terms_1, go_fdr_1, go_right_1), (go_terms_2, go_fdr_2, go_right_2), (go_terms_3, go_fdr_3, go_right_3),
           (go_terms_4, go_fdr_4, go_right_4), (go_terms_5, go_fdr_5, go_right_5)]
box_top = [527, 623, 721, 812, 906]
box_bot = [620, 717, 807, 900, 994]
first_row = [539, 632.7, 726, 819, 913]
box_colors = ["#c3e4f7", "#efe3fb", "#fbfcc4", "#c5e4e3", "#e5afd9"]
bar_colors = ["#3f5a6e", "#5e5068", "#6e6e40", "#3f5a5a", "#5a3050"]

for (terms, fdr, right), top, bot, y1, bc, fc in zip(go_sets, box_top, box_bot, first_row, box_colors, bar_colors):
    bg.add_patch(Rectangle((328, top), 368, bot - top, fc=bc, ec="none", zorder=0))
    axb = px_ax(577, y1 - 4, 119.6, 80)
    axb.patch.set_alpha(0)
    sns.barplot(x=fdr, y=[str(k) for k in range(10)], orient="h", color=fc, saturation=1, width=0.86, linewidth=0,
                ax=axb)
    axb.set_xlim(0, 46)
    axb.set_ylim(9.5, -0.5)
    axb.axis("off")
    for k, (term, r) in enumerate(zip(terms, right)):
        bg.text(325 + r / 3, y1 + 8 * k, term, ha="right", va="center", fontsize=6.7, color="#2a2a2a")

fdr_ticks = [0, 5, 10, 15, 20, 25, 30, 35, 40, 46]
axt = px_ax(572, 513, 119.6, 1)
axt.patch.set_alpha(0)
axt.set_xlim(0, 46)
axt.set_yticks([])
axt.set_xticks(fdr_ticks)
axt.tick_params(axis="x", length=1.2, width=0.5, labelsize=5.2, pad=0.8, bottom=True, labelcolor=TXT, color="#222222")
for s in ("top", "left", "right"):
    axt.spines[s].set_visible(False)
axt.spines["bottom"].set_linewidth(1)
axt.spines["bottom"].set_color("#222222")
bg.text(642, 503, "−log10(FDR)", ha="center", va="center", fontsize=8.6, color=TXT)
bg.text(564, 513.5, "'", ha="center", va="center", fontsize=5, color=TXT)

for lab, x, y in [("A", 9, 10), ("B", 8, 208), ("C", 8, 508)]:
    bg.text(x, y, lab, ha="center", va="center", fontsize=11, fontweight="bold", color="black")

fig.savefig("out.png", dpi=100)
